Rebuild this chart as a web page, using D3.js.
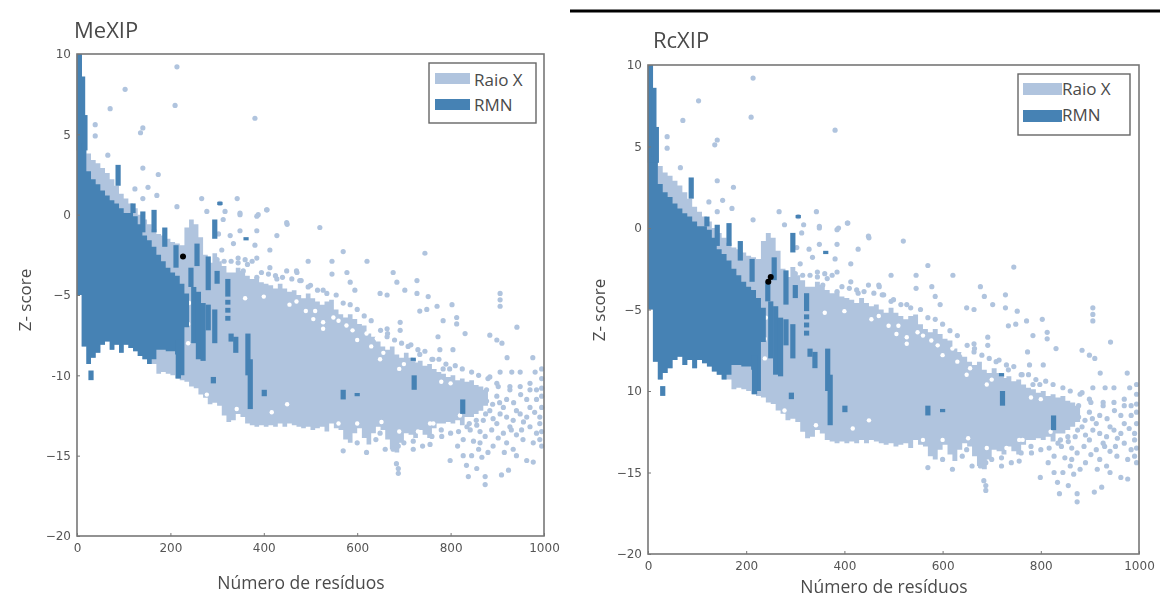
<!DOCTYPE html>
<html>
<head>
<meta charset="utf-8">
<script src="https://cdnjs.cloudflare.com/ajax/libs/d3/7.8.5/d3.min.js"></script>
<style>
    html, body { margin: 0; padding: 0; background: #fff; }
    svg { display: block; filter: blur(0.65px); }
    text { fill: #4a4a4a; }
</style>
</head>
<body>
<svg width="1160" height="597"></svg>
<script>
// ==================================================
// Values

const xTicks = [0, 200, 400, 600, 800, 1000];
const yTicks = [10, 5, 0, -5, -10, -15, -20];
const leftYLabels = ["10", "5", "0", "\u22125", "-10", "\u221215", "\u221220"];
const rightYLabels = ["10", "5", "0", "\u22125", "10", "\u221215", "\u221220"];

// solid part of the Raio X cloud, one value per 10 residues from 0
const xrayTop = [10, 5, 3.8, 3.4, 3.2, 2.9, 2.6, 2.2, 1.8, 1.3,
    1.0, 0.7, 0.4, 0.0, -0.3, -0.6, -0.9, -1.2, -1.3, -1.5,
    -1.7, -1.8, -1.9, -0.8, -0.3, -0.6, -1.4, -2.5, -3, -2.4,
    -2.9, -3.2, -3.6, -3.6, -3.3, -3.5, -3.8, -4, -3.9, -4.2,
    -4.3, -4.4, -4.6, -4.3, -4.6, -4.8, -4.7, -5, -5.2, -4.9,
    -5.2, -5.4, -5.6, -5.4, -5.3, -5.9, -6.2, -6.4, -6.2, -6.5,
    -6.8, -6.9, -7.4, -7.6, -7.9, -8.2, -8.4, -8.2, -8.7, -8.9,
    -8.6, -8.9, -9.2, -9.1, -9.4, -9.3, -9.6, -9.8, -9.9, -10.1,
    -10, -10.3, -10.2, -10.4, -10.3, -10.6, -10.7, -10.9];
const xrayBottom = [-5, -8.2, -9.3, -8.9, -8.6, -8.1, -7.9, -8.4, -8.1, -8.6,
    -8.1, -8.3, -8.5, -8.8, -9, -9.3, -9.3, -9.9, -9.8, -9.9,
    -10, -10.2, -10.3, -10.4, -10.7, -10.8, -11.2, -11.4, -11.8, -11.7,
    -11.9, -12.5, -12.9, -12.8, -12.4, -12.6, -13, -13.1, -13.2, -13.1,
    -13.2, -13.1, -13.2, -13, -13.2, -13, -13.1, -13.2, -13.3, -13.2,
    -13.4, -13.3, -13.2, -13.5, -13, -13.3, -13.4, -14, -14.2, -13.6,
    -13.3, -13.9, -14.3, -13.6, -13.2, -13.4, -14, -14.6, -14.8, -14.2,
    -13.6, -13.7, -13.9, -13.4, -13.7, -13.9, -13.3, -13, -13, -12.9,
    -13, -12.8, -13.1, -12.6, -12.6, -12.4, -12.2, -11.9];

// solid part of the RMN cloud, same steps
const rmnTop = [10, 4.6, 2.7, 2.2, 1.9, 1.5, 1.2, 0.9, 0.7, 0.4,
    0.1, 0.1, -0.1, -0.6, -1.3, -1.6, -2, -2.5, -2.9, -3.3,
    -3.6, -3.8, -4.3, -4.9];
const rmnBottom = [-5, -8.2, -9.3, -8.9, -8.6, -8.1, -7.9, -8.4, -8.1, -8.6,
    -8.1, -8.3, -8.5, -8.8, -9, -9.3, -9, -8.4, -8.4, -8.5,
    -8.5, -8.7, -10, -7];

// RMN vertical streaks: residues, top, bottom
const rmnStreaks = [[5, 10, 4], [12, 8.6, 4.4], [17, 6.2, 4], [88, 3.1, 1.8], [120, 0.7, 0.1],
    [141, 0.2, -1.1], [165, 0.3, -1.1], [188, -0.8, -2], [212, -1.9, -3.3], [257, -1.8, -3.2],
    [295, -0.3, -1.5], [244, -3.3, -4.5], [281, -2.6, -4.7], [300, -3.5, -4.3], [323, -4, -5.1],
    [250, -4.5, -8], [260, -4.8, -9], [270, -5.5, -9.1], [281, -5.6, -7.2], [295, -5.9, -8],
    [323, -5.3, -5.6], [323, -5.8, -6.1], [323, -6.3, -6.6], [330, -7.4, -7.9], [340, -7.6, -8.6],
    [366, -7.4, -10], [371, -9, -12.1], [30, -9.7, -10.3], [217, -7.8, -10.2], [292, -10.1, -10.5],
    [401, -10.9, -11.3], [570, -10.9, -11.5], [600, -11.1, -11.3], [722, -10, -10.9],
    [720, -8.9, -9.1], [826, -11.5, -12.4], [306, 0.8, 0.6], [362, -1.4, -1.6]];

// loose Raio X points: residues, z-score
const xrayPoints = [[214, 9.2], [103, 7.8], [71, 6.6], [210, 6.8], [381, 6.0], [141, 5.4], [136, 5.1],
    [39, 5.6], [39, 4.9], [66, 3.7], [141, 2.9], [174, 2.5], [152, 1.7], [124, 1.6], [171, 1.2],
    [141, 1.0], [267, 1.0], [306, 0.7], [343, 1.0], [214, 0.5], [278, 0.2], [317, 0.2], [407, 0.3],
    [385, -0.1], [349, 0], [450, -0.6], [520, -0.8], [570, -2.3], [745, -2.4], [621, -2.9], [495, -2.9],
    [546, -2.9], [546, -3.7], [578, -3.6], [585, -4.2], [595, -4.7], [677, -3.6], [685, -4.2], [728, -4.1],
    [702, -4.7], [649, -4.9], [664, -5], [728, -4.9], [752, -5.1], [906, -4.9], [471, -3.6], [477, -4.1],
    [495, -4.5], [527, -4.7], [906, -5.3], [906, -5.7], [749, -5.9], [771, -5.7], [803, -5.6], [813, -6.8],
    [813, -6.4], [784, -6.6], [734, -6], [692, -6.7], [692, -7.2], [664, -7.1], [664, -7.6], [709, -8.2],
    [773, -7.6], [831, -7.4], [942, -7], [884, -7.5], [899, -7.8], [910, -8], [777, -8.4], [805, -8.4],
    [921, -8.9], [976, -8.9], [734, -8.7], [762, -9], [784, -9.6], [798, -9.6], [720, -9.1],
    [884, -10.1], [899, -10.5], [906, -9.8], [931, -9.8], [949, -9.8], [981, -9.8], [927, -10.7],
    [949, -10.7], [970, -10.5], [995, -9.6], [995, -10.2], [995, -10.8], [995, -11.3],
    [328, -1.3], [349, -1], [381, -1.9], [413, -2.2], [428, -1.3], [385, -1], [360, -2.8], [385, -2.7],
    [413, -3.3], [428, -4], [449, -3.5], [470, -3.5], [335, -1.8], [310, -2.2], [303, -1.2], [345, -2.7],
    [356, -3.5], [385, -3.9], [313, -0.3], [349, 0.1], [388, 0], [449, -0.5], [406, 0.3],
    [649, -13.6], [677, -14.6], [688, -14.4], [720, -14.1], [756, -14.3], [781, -13.8], [684, -15.5],
    [688, -16.1], [688, -15.8], [799, -15.3], [817, -13.5], [827, -14], [849, -14.1], [863, -14.2], [874, -13.8],
    [827, -15], [834, -15.6], [856, -15.8], [867, -15.1], [838, -16.3], [874, -16.3], [874, -16.8],
    [909, -16.2], [924, -15.9], [934, -14.6], [941, -15], [963, -15.3], [977, -15.4], [888, -13.4],
    [902, -13.9], [913, -13.6], [941, -13.7], [952, -13.4], [977, -14.2], [991, -14], [991, -13],
    [949, -12.4], [963, -12.6], [934, -12.8], [899, -13], [920, -11.5], [899, -11.3], [877, -10.9],
    [963, -11.5], [984, -11.5], [991, -12.6], [970, -10.9], [984, -10.9], [927, -10.9], [902, -10.7],
    [884, -12.2], [891, -12.7], [906, -12.4], [913, -12], [920, -12.6], [927, -13.2], [941, -12.2],
    [956, -12.9], [970, -13.2], [984, -13.6], [995, -12], [995, -13.5], [995, -14.4], [877, -11.6],
    [870, -12.8], [856, -13.1], [842, -13.4], [863, -13.5], [835, -13.2], [891, -14.4], [920, -14.2],
    [300, -2.8], [315, -2.9], [330, -2.9], [345, -3], [365, -3.1], [375, -2.9], [395, -3.6], [410, -3.7],
    [425, -3.8], [440, -3.9], [460, -4], [480, -4.1], [500, -4.4], [515, -4.7], [535, -4.9], [555, -5],
    [570, -5.5], [585, -5.6], [600, -5.9], [615, -6.3], [630, -6.6], [650, -7.2], [665, -7.4], [680, -7.8],
    [695, -8], [715, -8.1], [730, -8.4], [745, -8.5], [760, -9], [775, -9], [790, -9.3], [810, -9.4],
    [825, -9.6], [845, -9.8], [860, -10], [880, -10.2],
    [570, -14.7], [600, -14.2], [620, -14.8], [640, -14], [660, -14.6], [700, -14.2], [720, -14.6],
    [740, -14.4], [760, -13.8], [780, -13.4], [800, -13.6], [815, -14.4], [840, -13], [855, -12.8],
    [875, -12.4], [890, -11.8], [905, -11.7], [935, -11.7], [950, -11.2], [970, -12], [980, -12.3],
    [955, -14], [930, -13.4], [915, -14.8], [880, -14.8], [845, -15], [860, -14.6]];

// white gaps inside the cloud
const xrayGaps = [[527, -7.1], [549, -6.4], [577, -6.9], [620, -7.4], [642, -7.7], [670, -8], [506, -6.5],
    [278, -11.2], [342, -12.1], [417, -12.3], [450, -11.8], [527, -6.7], [649, -9], [656, -8.6], [756, -13],
    [652, -12.9], [763, -13], [360, -5.2], [400, -5.1], [455, -5.6], [490, -6], [600, -7.8], [700, -9.3],
    [800, -10.5], [820, -12.5], [240, -5.5], [238, -6.8], [238, -8], [470, -5.4], [510, -6], [560, -6.6],
    [590, -7.2], [630, -8.2], [690, -9.6], [780, -10.4], [730, -13.5], [690, -13.5], [600, -13], [560, -13]];

const leftBlack = [[227, -2.6]];
const rightBlack = [[245, -3.3], [250, -3]];

const legendNames = ["Raio X", "RMN"];
const lightBlue = "#b0c4de";
const darkBlue = "#4682b4";

// ==================================================

const svg = d3.select("svg");

const panels = [
    {title: "MeXIP", left: 77, right: 544, top: 54, bottom: 536, yLabels: leftYLabels, black: leftBlack,
     titleX: 74, titleY: 38, xlabelX: 301, xlabelY: 589, ylabelX: 31, ylabelY: 300,
     legend: {x: 429, y: 63, w: 107, h: 60, patchX: 435, patchW: 35, patchH: 11, y1: 73, y2: 99, textX: 474, text1: 86, text2: 111}},
    {title: "RcXIP", left: 648, right: 1139, top: 65, bottom: 554, yLabels: rightYLabels, black: rightBlack,
     titleX: 653, titleY: 48, xlabelX: 884, xlabelY: 593, ylabelX: 605, ylabelY: 310,
     legend: {x: 1018, y: 74, w: 112, h: 61, patchX: 1023, patchW: 39, patchH: 12, y1: 83, y2: 110, textX: 1062, text1: 95, text2: 121}}
];

// rule above the right panel
svg.append("line")
    .attr("x1", 570).attr("x2", 1160)
    .attr("y1", 11).attr("y2", 11)
    .attr("stroke", "#000").attr("stroke-width", 3);

panels.forEach(drawPanel);

function drawPanel(p) {
    const x = d3.scaleLinear().domain([0, 1000]).range([p.left, p.right]);
    const y = d3.scaleLinear().domain([-20, 10]).range([p.bottom, p.top]);
    const g = svg.append("g");

    cloud(g, xrayTop, xrayBottom, lightBlue, x, y);

    dots(g, xrayPoints, 2.6, lightBlue, x, y);
    dots(g, xrayGaps, 2.2, "#fff", x, y);

    cloud(g, rmnTop, rmnBottom, darkBlue, x, y);

    g.append("g").selectAll("rect").data(rmnStreaks).join("rect")
        .attr("x", d => x(d[0]) - 2.6)
        .attr("y", d => y(d[1]))
        .attr("width", 5.2)
        .attr("height", d => y(d[2]) - y(d[1]))
        .attr("fill", darkBlue);

    dots(g, p.black, 3, "#000", x, y);

    // frame
    g.append("rect")
        .attr("x", p.left).attr("y", p.top)
        .attr("width", p.right - p.left).attr("height", p.bottom - p.top)
        .attr("fill", "none")
        .attr("stroke", "#777").attr("stroke-width", 1.6);

    const xAxis = d3.axisBottom(x).tickValues(xTicks).tickSize(-3).tickPadding(7)
        .tickFormat(d3.format("d"));
    const yAxis = d3.axisLeft(y).tickValues(yTicks).tickSize(-3).tickPadding(6)
        .tickFormat((d, i) => p.yLabels[i]);

    const ax = g.append("g").attr("transform", `translate(0,${p.bottom})`).call(xAxis);
    const ay = g.append("g").attr("transform", `translate(${p.left},0)`).call(yAxis);
    [ax, ay].forEach(a => {
        a.select(".domain").remove();
        a.selectAll("line").attr("stroke", "#777");
        a.selectAll("text")
            .attr("font-family", "'DejaVu Sans'")
            .attr("font-size", 12)
            .style("fill", "#555");
    });

    g.append("text")
        .attr("x", p.titleX).attr("y", p.titleY)
        .attr("font-family", "'Open Sans'").attr("font-size", 22)
        .text(p.title);

    g.append("text")
        .attr("x", p.xlabelX).attr("y", p.xlabelY)
        .attr("text-anchor", "middle")
        .attr("font-family", "'Open Sans'").attr("font-size", 17.5)
        .text("N\u00famero de res\u00edduos");

    g.append("text")
        .attr("transform", `translate(${p.ylabelX},${p.ylabelY}) rotate(-90)`)
        .attr("text-anchor", "middle")
        .attr("font-family", "'Open Sans'").attr("font-size", 17)
        .text("Z- score");

    const l = p.legend;
    g.append("rect")
        .attr("x", l.x).attr("y", l.y)
        .attr("width", l.w).attr("height", l.h)
        .attr("fill", "#fff")
        .attr("stroke", "#666").attr("stroke-width", 1.4);

    const rows = [
        {name: legendNames[0], color: lightBlue, py: l.y1, ty: l.text1},
        {name: legendNames[1], color: darkBlue, py: l.y2, ty: l.text2}
    ];
    rows.forEach(r => {
        g.append("rect")
            .attr("x", l.patchX).attr("y", r.py)
            .attr("width", l.patchW).attr("height", l.patchH)
            .attr("fill", r.color);
        g.append("text")
            .attr("x", l.textX).attr("y", r.ty)
            .attr("font-family", "'Open Sans'").attr("font-size", 17)
            .text(r.name);
    });
}

function dots(g, points, r, color, x, y) {
    g.append("g").selectAll("circle").data(points).join("circle")
        .attr("cx", d => x(d[0]))
        .attr("cy", d => y(d[1]))
        .attr("r", r)
        .attr("fill", color);
}

// stepped band, one step per 10 residues
function cloud(g, tops, bottoms, color, x, y) {
    const steps = tops.map((d, i) => [i * 10, d, bottoms[i]]);
    const last = steps[steps.length - 1];
    steps.push([last[0] + 10, last[1], last[2]]);
    const area = d3.area()
        .curve(d3.curveStepAfter)
        .x(d => x(d[0]))
        .y0(d => y(d[2]))
        .y1(d => y(d[1]));
    g.append("path").attr("d", area(steps)).attr("fill", color);
}
</script>
</body>
</html>
